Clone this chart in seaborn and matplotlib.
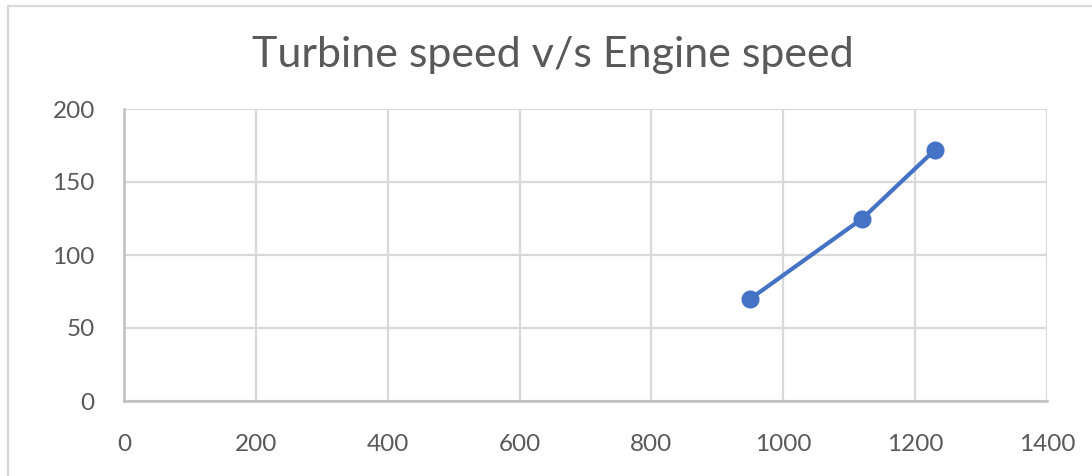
import matplotlib
matplotlib.use("Agg")
import matplotlib.pyplot as plt
import seaborn as sns
import pandas as pd
from matplotlib.patches import Rectangle

# Data
engine_speed = [950, 1120, 1230]
turbine_speed = [70, 125, 172]
x_ticks = [0, 200, 400, 600, 800, 1000, 1200, 1400]
y_ticks = [0, 50, 100, 150, 200]
title = "Turbine speed v/s Engine speed"

sns.set_theme(style="white")
plt.rcParams['font.family'] = ['Lato', 'DejaVu Sans']

df = pd.DataFrame({'Engine speed': engine_speed, 'Turbine speed': turbine_speed})

fig = plt.figure(figsize=(10.92, 4.76), dpi=100)
ax = fig.add_axes([124 / 1092, 1 - 401 / 476, (1047 - 124) / 1092, (401 - 109) / 476])

blue = "#4472C4"
sns.lineplot(data=df, x='Engine speed', y='Turbine speed', ax=ax, color=blue,
             linewidth=3, marker='o', markersize=13, markeredgewidth=0, zorder=3)

ax.set_xlim(x_ticks[0], x_ticks[-1])
ax.set_ylim(y_ticks[0], y_ticks[-1])
ax.set_xticks(x_ticks)
ax.set_yticks(y_ticks)
ax.set_xlabel('')
ax.set_ylabel('')
ax.grid(True, color="#d9d9d9", linewidth=1.6)
ax.set_axisbelow(True)
for side in ['top', 'right']:
    ax.spines[side].set_visible(False)
for side in ['left', 'bottom']:
    ax.spines[side].set_color("#bfbfbf")
    ax.spines[side].set_linewidth(1.8)
ax.tick_params(axis='y', length=0, pad=21, labelsize=17.5, labelcolor="#595959")
ax.tick_params(axis='x', length=0, pad=24, labelsize=17.5, labelcolor="#595959")

fig.text(553 / 1092, 1 - 55 / 476, title, ha='center', va='center',
         fontsize=31, color="#595959")

# outer chart border
fig.patches.append(Rectangle((8 / 1092, -0.05), 1.2, 1 - 6 / 476 + 0.05,
                             transform=fig.transFigure, fill=False,
                             edgecolor="#d9d9d9", linewidth=1.6))

fig.savefig('out.png', dpi=100)
